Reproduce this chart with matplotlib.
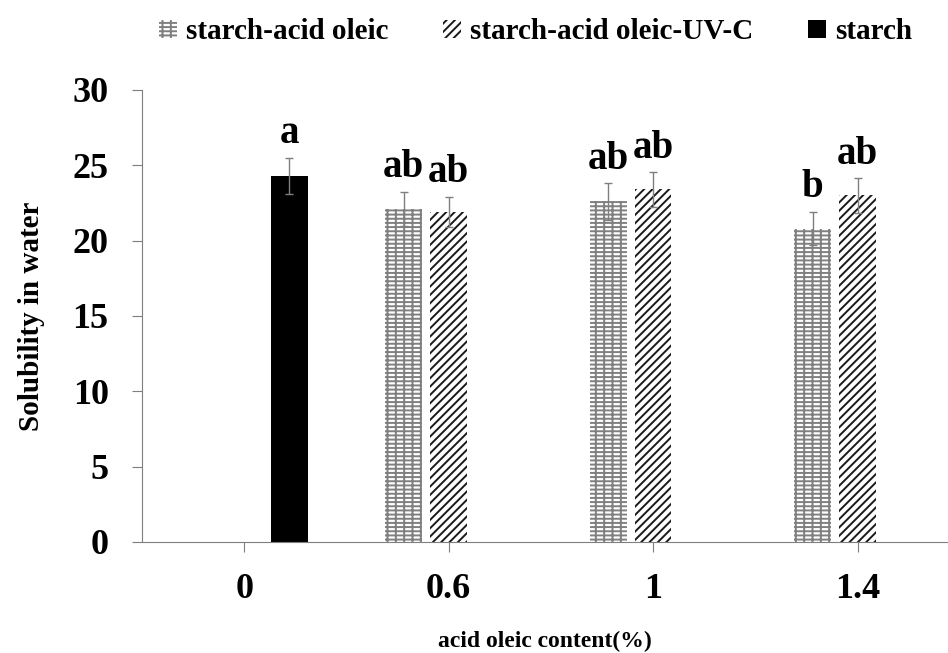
import matplotlib.pyplot as plt
import numpy as np

plt.rcParams['font.family'] = ['Liberation Serif', 'DejaVu Serif']
plt.rcParams['font.weight'] = 'bold'
plt.rcParams['hatch.linewidth'] = 1.4

categories = ['0', '0.6', '1', '1.4']
oleic = [np.nan, 22.1, 22.6, 20.8]
oleic_err = [0, 1.15, 1.2, 1.1]
oleic_uv = [np.nan, 21.9, 23.4, 23.0]
oleic_uv_err = [0, 1.0, 1.15, 1.15]
starch = [24.3, np.nan, np.nan, np.nan]
starch_err = [1.2, 0, 0, 0]
letters_oleic = ['', 'ab', 'ab', 'b']
letters_uv = ['', 'ab', 'ab', 'ab']
letters_starch = ['a', '', '', '']

fig = plt.figure(figsize=(9.48, 6.53), dpi=100)
ax = fig.add_axes([142 / 948, 1 - 542 / 653, 1 - 142 / 948, (542 - 90) / 653])

x = np.arange(len(categories))
w = 0.18
off = 0.22
grey = '#7f7f7f'

series = [
    (x - off, oleic, oleic_err, letters_oleic, dict(facecolor='white', edgecolor='#808080', hatch='----||'), 'starch-acid oleic'),
    (x, oleic_uv, oleic_uv_err, letters_uv, dict(facecolor='white', edgecolor='#1a1a1a', hatch='////'), 'starch-acid oleic-UV-C'),
    (x + off, starch, starch_err, letters_starch, dict(facecolor='black', edgecolor='black'), 'starch'),
]

for xs, vals, errs, labs, style, name in series:
    ax.bar(xs, vals, width=w, linewidth=0, label=name, **style)
    ax.errorbar(xs, vals, yerr=errs, fmt='none', ecolor=grey, elinewidth=1, capsize=3, capthick=1)
    for xi, v, e, t in zip(xs, vals, errs, labs):
        if t:
            ax.annotate(t, (xi, v + e), xytext=(0, 4), textcoords='offset points',
                        ha='center', va='bottom', fontsize=28, fontweight='bold')

ax.set_xlim(-0.5, (948 - 244) / 204.5)
ax.set_ylim(0, 30)
ax.set_yticks(range(0, 31, 5))
ax.set_xticks(x)
ax.set_xticklabels(categories)
for s in ['top', 'right']:
    ax.spines[s].set_visible(False)
for s in ['left', 'bottom']:
    ax.spines[s].set_color(grey)
ax.tick_params(axis='both', color=grey, length=7, labelsize=26)
ax.tick_params(axis='y', pad=17)
ax.tick_params(axis='x', pad=15)

ax.set_ylabel('Solubility in water', fontsize=21, fontweight='bold', labelpad=20)
ax.set_xlabel('acid oleic content(%)', fontsize=17, fontweight='bold', labelpad=18)

fig.legend(loc='upper center', bbox_to_anchor=(0.565, 1.012), ncol=3, frameon=False,
           fontsize=21, handlelength=0.6, handleheight=0.6, handletextpad=0.3,
           columnspacing=1.9)

fig.savefig('out.png', dpi=100)
